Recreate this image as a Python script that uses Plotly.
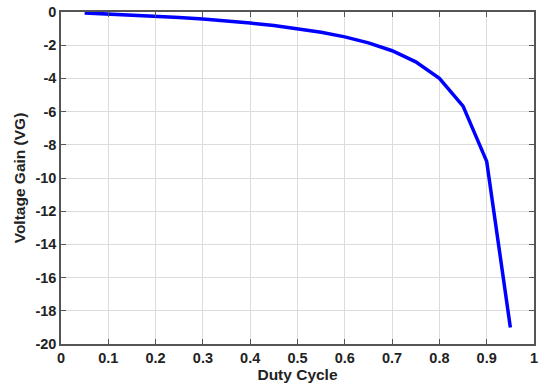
import plotly.graph_objects as go

duty_cycle = [0.05, 0.10, 0.15, 0.20, 0.25, 0.30, 0.35, 0.40, 0.45, 0.50,
              0.55, 0.60, 0.65, 0.70, 0.75, 0.80, 0.85, 0.90, 0.95]
voltage_gain = [-0.053, -0.111, -0.176, -0.25, -0.333, -0.429, -0.538, -0.667, -0.818, -1.0,
                -1.222, -1.5, -1.857, -2.333, -3.0, -4.0, -5.667, -9.0, -19.0]
x_ticks = [0, 0.1, 0.2, 0.3, 0.4, 0.5, 0.6, 0.7, 0.8, 0.9, 1]
x_tick_labels = ["0", "0.1", "0.2", "0.3", "0.4", "0.5", "0.6", "0.7", "0.8", "0.9", "1"]
y_ticks = [0, -2, -4, -6, -8, -10, -12, -14, -16, -18, -20]
y_tick_labels = ["0", "-2", "-4", "-6", "-8", "-10", "-12", "-14", "-16", "-18", "-20"]

fig = go.Figure()
fig.add_trace(go.Scatter(x=duty_cycle, y=voltage_gain, mode="lines",
                         line=dict(color="#0000ff", width=3.5), showlegend=False))

font_family = "Liberation Sans, Arial, sans-serif"
tick_font = dict(family=font_family, size=14.5, color="#222222", weight="bold")
title_font = dict(family=font_family, size=15.5, color="#222222", weight="bold")
axis_common = dict(
    showline=True, linecolor="#555555", linewidth=1.5, mirror="ticks",
    ticks="inside", ticklen=5, tickcolor="#555555", tickwidth=1,
    showgrid=True, gridcolor="#dcdcdc", gridwidth=1, zeroline=False,
    tickfont=tick_font, automargin=False,
)
fig.update_xaxes(range=[0, 1], tickvals=x_ticks, ticktext=x_tick_labels,
                 title=dict(text="Duty Cycle", font=title_font, standoff=4),
                 **axis_common)
fig.update_yaxes(range=[-20, 0], tickvals=y_ticks, ticktext=y_tick_labels,
                 title=dict(text="Voltage Gain (VG)", font=title_font, standoff=6),
                 **axis_common)
fig.update_layout(
    width=550, height=391,
    margin=dict(l=61, r=16, t=12, b=47),
    plot_bgcolor="white", paper_bgcolor="white",
    font=dict(family=font_family, size=14, color="#222222"),
)
fig.write_html("out.html", config={"displayModeBar": False},
               post_script="document.body.style.margin='0';document.body.style.overflow='hidden';")
